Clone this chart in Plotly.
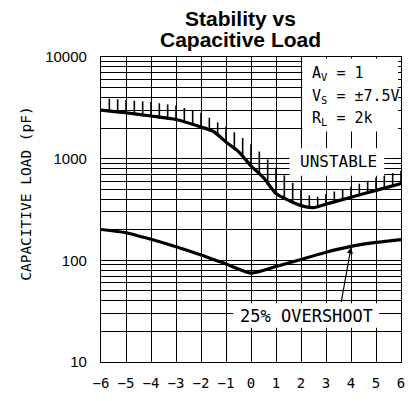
import numpy as np
import plotly.graph_objects as go

# ---- data ----
upper_x = [-6, -5, -4, -3, -2, -1.5, -1, -0.5, 0, 0.5, 1, 1.5, 2, 2.5, 3, 4, 5, 6]
upper_c = [3000, 2830, 2630, 2430, 2050, 1850, 1460, 1175, 850, 650, 455, 390, 345, 330, 357, 417, 488, 570]

hatch_top_x = [-6, -5, -4, -3, -2, -1.5, -1, -0.5, 0, 0.5, 1, 1.5, 2, 2.5, 3, 4, 5, 6]
hatch_top_c = [3950, 3780, 3600, 3330, 2830, 2390, 2060, 1710, 1390, 1080, 815, 628, 490, 410, 450, 530, 650, 760]

lower_x = [-6, -5, -4, -3, -2, -1, 0, 1, 2, 3, 4, 5, 6]
lower_c = [201, 187, 161, 136, 113, 92, 75, 87, 102, 120, 137, 150, 160]

x_ticks = list(range(-6, 7))
y_major = [10, 100, 1000, 10000]
y_minor = [m * 10 ** e for e in range(1, 4) for m in range(2, 10)]

arrow_x = 4.0
hatch_step = 1 / 3

# ---- figure geometry ----
W, H = 415, 401
L, R, T, B = 101, 10, 57, 33
PW, PH = W - L - R, H - T - B


def px(xp):
    return (xp - L) / PW


def py(yp):
    return (H - B - yp) / PH


MONO = "DejaVu Sans Mono"

fig = go.Figure()

# hatch marks above the stability boundary
hx = np.arange(-6 + hatch_step, 6 + 1e-9, hatch_step)
lo = 10 ** np.interp(hx, upper_x, np.log10(upper_c)) * 0.97
hi = 10 ** np.interp(hx, hatch_top_x, np.log10(hatch_top_c))
hxs, hys = [], []
for a, b, c in zip(hx, lo, hi):
    hxs += [a, a, None]
    hys += [b, c, None]
fig.add_trace(go.Scatter(x=hxs, y=hys, mode="lines",
                         line=dict(color="black", width=1.6),
                         hoverinfo="skip", showlegend=False))

fig.add_trace(go.Scatter(x=upper_x, y=upper_c, mode="lines",
                         line=dict(color="black", width=3.2, shape="spline", smoothing=0.6),
                         showlegend=False))
fig.add_trace(go.Scatter(x=lower_x, y=lower_c, mode="lines",
                         line=dict(color="black", width=3.2, shape="spline", smoothing=0.6),
                         showlegend=False))

# white boxes hiding the grid behind labels
boxes = [
    (305, 402, 58.5, 133),
    (292, 388, 150, 178),
    (235, 383, 308, 333),
]
for x0, x1, y0, y1 in boxes:
    fig.add_shape(type="rect", xref="paper", yref="paper",
                  x0=px(x0), x1=px(x1), y0=py(y1), y1=py(y0),
                  fillcolor="white", line=dict(width=0), layer="above")

ann = []
# title
ann.append(dict(text="<b>Stability vs</b>", x=px(242.5), y=py(18), xref="paper", yref="paper",
                showarrow=False, font=dict(family="Liberation Sans", size=21, color="black"),
                xanchor="center", yanchor="middle"))
ann.append(dict(text="<b>Capacitive Load</b>", x=px(242.5), y=py(39.5), xref="paper", yref="paper",
                showarrow=False, font=dict(family="Liberation Sans", size=21, color="black"),
                xanchor="center", yanchor="middle"))
# conditions
for txt, yp in [("A<sub>V</sub> = 1", 74),
                ("V<sub>S</sub> = ±7.5V", 97),
                ("R<sub>L</sub> = 2k", 120)]:
    ann.append(dict(text=txt, x=px(313), y=py(yp), xref="paper", yref="paper",
                    showarrow=False, font=dict(family=MONO, size=15, color="black"),
                    xanchor="left", yanchor="middle"))
ann.append(dict(text="UNSTABLE", x=px(341.5), y=py(164), xref="paper", yref="paper",
                showarrow=False, font=dict(family=MONO, size=16, color="black"),
                xanchor="center", yanchor="middle"))
ann.append(dict(text="25% OVERSHOOT", x=px(309.7), y=py(321), xref="paper", yref="paper",
                showarrow=False, font=dict(family=MONO, size=17, color="black"),
                xanchor="center", yanchor="middle"))
# arrow to the overshoot curve
arrow_y = 10 ** np.interp(arrow_x, lower_x, np.log10(lower_c))
ann.append(dict(text="", x=arrow_x, y=float(np.log10(arrow_y)) - 0.01, xref="x", yref="y",
                ax=3.6, ay=float(np.log10(37.8)), axref="x", ayref="y",
                showarrow=True, arrowhead=2, arrowsize=1.0, arrowwidth=1.2, arrowcolor="black"))
# y title
ann.append(dict(text="CAPACITIVE LOAD (pF)", x=px(25), y=py(196.5), xref="paper", yref="paper",
                showarrow=False, textangle=-90, font=dict(family=MONO, size=14.5, color="black"),
                xanchor="center", yanchor="middle"))

fig.update_layout(
    width=W, height=H,
    margin=dict(l=L, r=R, t=T, b=B),
    plot_bgcolor="white", paper_bgcolor="white",
    showlegend=False,
    annotations=ann,
    xaxis=dict(range=[-6, 6], tickvals=x_ticks, showgrid=True, gridcolor="black", gridwidth=1,
               zeroline=False, showline=True, linecolor="black", linewidth=1.2, mirror=True,
               ticks="", tickfont=dict(family=MONO, size=14, color="black"),
               ticklabelstandoff=8),
    yaxis=dict(type="log", range=[1, 4], tickvals=y_major, ticktext=[str(v) for v in y_major],
               showgrid=True, gridcolor="black", gridwidth=1,
               minor=dict(tickvals=y_minor, showgrid=True, gridcolor="black", gridwidth=1, ticks=""),
               zeroline=False, showline=True, linecolor="black", linewidth=1.2, mirror=True,
               ticks="", tickfont=dict(family="Liberation Sans", size=15, color="black"),
               ticklabelstandoff=10),
)

fig.write_html("out.html", config={"displayModeBar": False},
               post_script="document.body.style.margin='0';document.body.style.overflow='hidden';")
